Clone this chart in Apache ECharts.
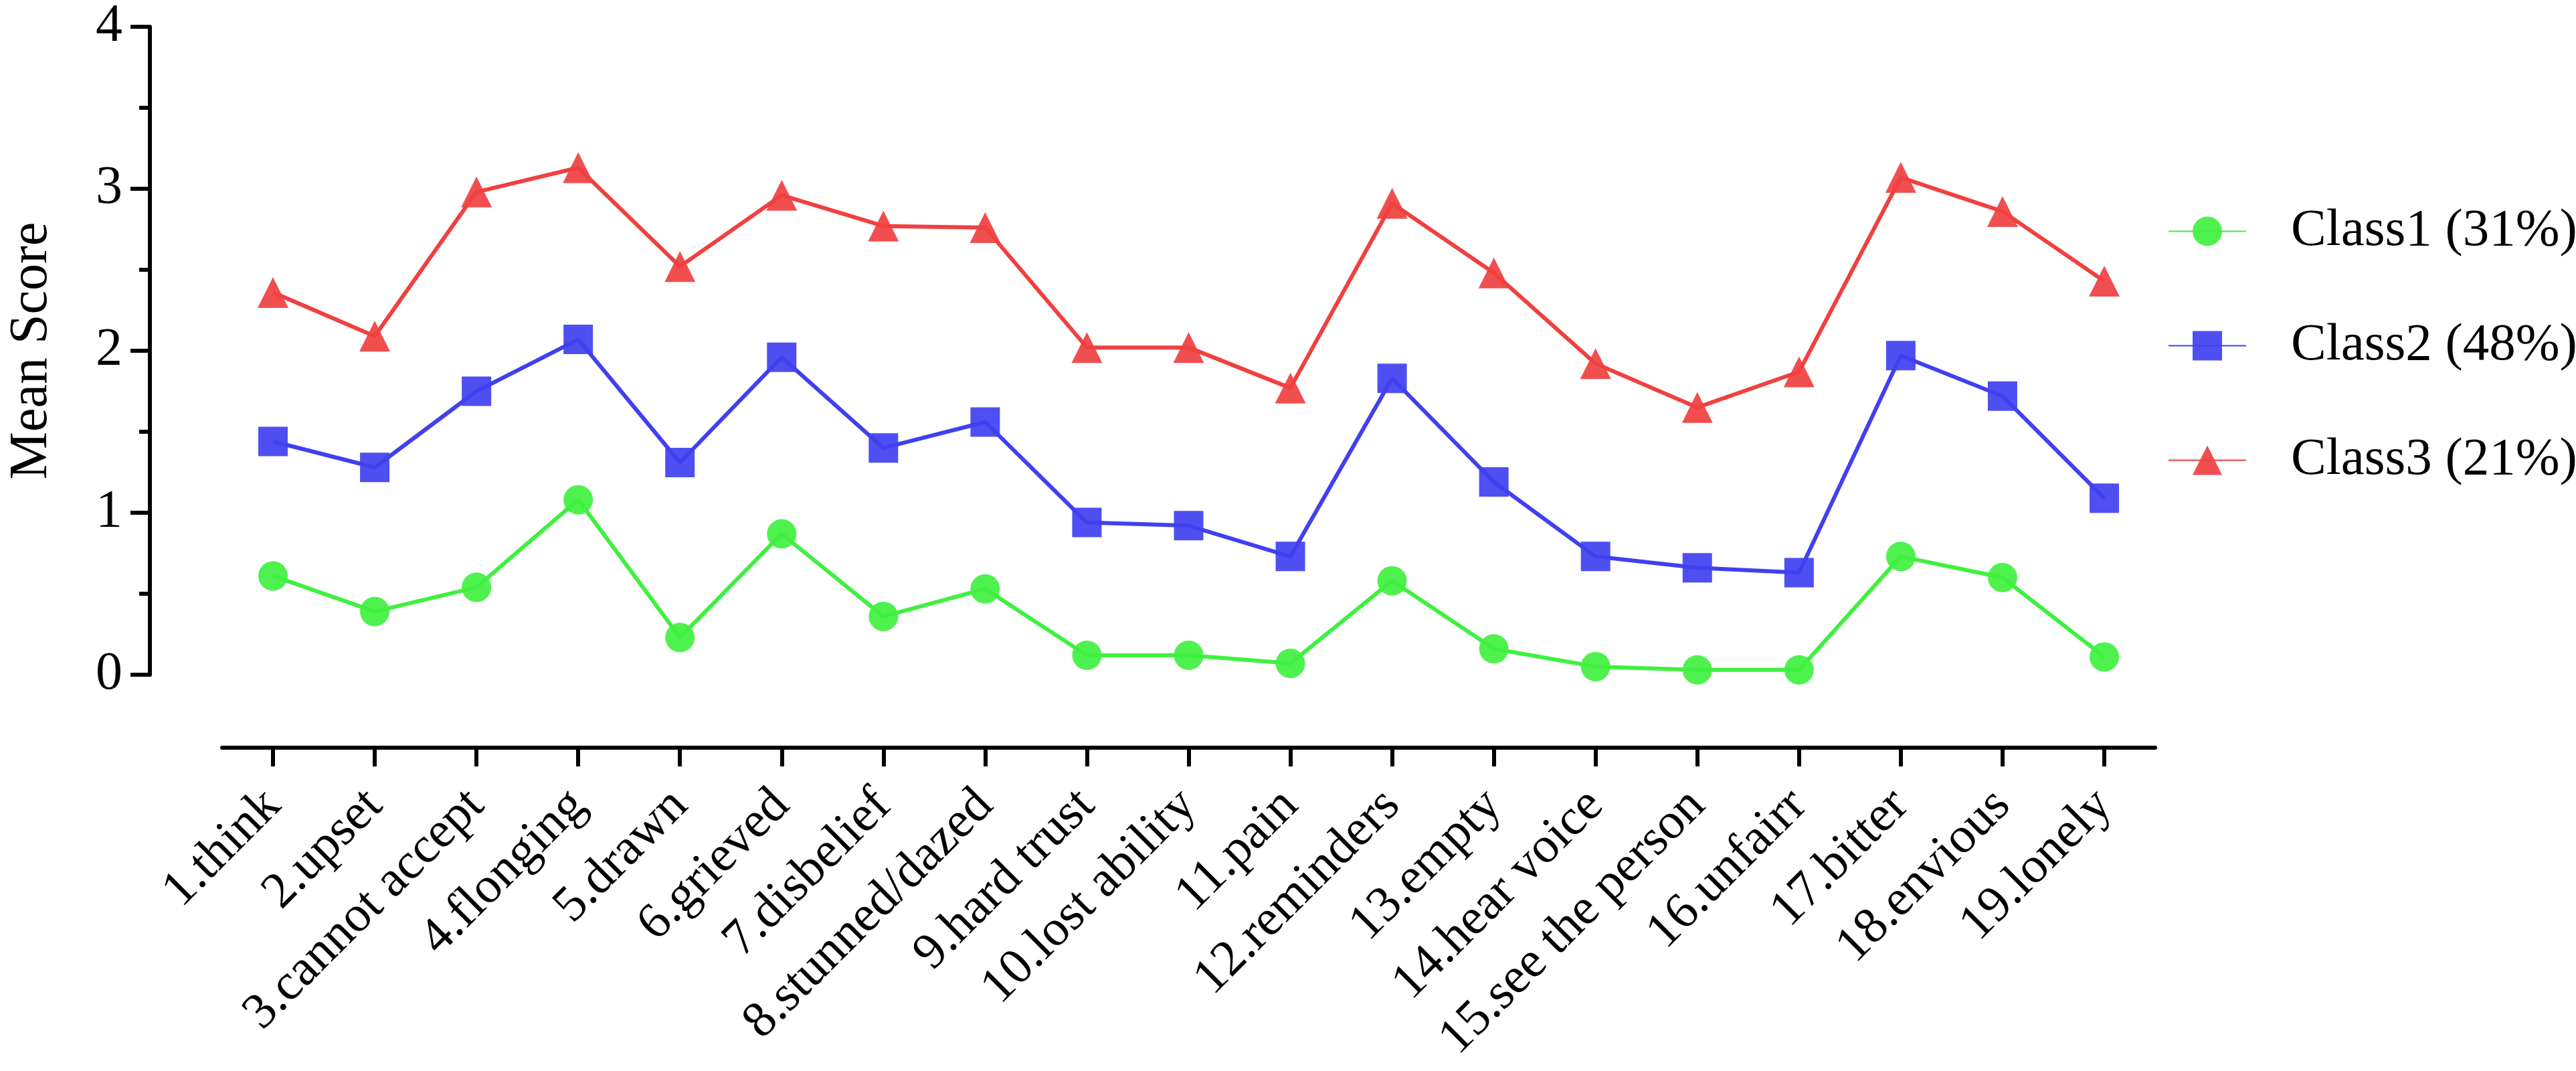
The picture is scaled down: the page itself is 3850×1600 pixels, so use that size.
<!DOCTYPE html>
<html>
<head>
<meta charset="utf-8">
<title>Mean Score by Class</title>
<script src="https://cdn.jsdelivr.net/npm/echarts@6/dist/echarts.min.js"></script>
<style>
  html, body { margin: 0; padding: 0; background: #fff; }
  #chart { width: 3850px; height: 1600px; }
</style>
</head>
<body>
<div id="chart"></div>
<script>
// 条目名称
var items = [
  "1.think", "2.upset", "3.cannot accept", "4.flonging", "5.drawn",
  "6.grieved", "7.disbelief", "8.stunned/dazed", "9.hard trust",
  "10.lost ability", "11.pain", "12.reminders", "13.empty",
  "14.hear voice", "15.see the person", "16.unfairr", "17.bitter",
  "18.envious", "19.lonely"
];

// 各类别均值
var class1 = [0.61, 0.39, 0.54, 1.08, 0.23, 0.87, 0.36, 0.53, 0.12, 0.12,
  0.07, 0.58, 0.16, 0.05, 0.03, 0.03, 0.73, 0.60, 0.11];
var class2 = [1.44, 1.28, 1.75, 2.07, 1.31, 1.96, 1.40, 1.56, 0.94, 0.92,
  0.73, 1.83, 1.19, 0.73, 0.66, 0.63, 1.97, 1.72, 1.09];
var class3 = [2.36, 2.09, 2.98, 3.13, 2.52, 2.96, 2.77, 2.76, 2.02, 2.02,
  1.77, 2.91, 2.48, 1.92, 1.65, 1.87, 3.07, 2.86, 2.43];

var classNames = ["Class1 (31%)", "Class2 (48%)", "Class3 (21%)"];
var yTicks = { min: 0, max: 4, interval: 1 };

var FONT = "'Liberation Serif', 'Times New Roman', serif";

var chartDom = document.getElementById("chart");
var myChart = echarts.init(chartDom, null, { renderer: "canvas" });

function makeSeries(name, data, color, symbol, size) {
  return {
    name: name,
    type: "line",
    data: data,
    symbol: symbol,
    symbolSize: size,
    lineStyle: { color: color, width: 6 },
    itemStyle: { color: color, opacity: 0.92 },
    emphasis: { disabled: true },
    z: 3
  };
}

var option = {
  animation: false,
  backgroundColor: "#ffffff",
  textStyle: { fontFamily: FONT },
  grid: { left: 299, right: 629, top: 33, bottom: 592, containLabel: false },
  legend: {
    orient: "vertical",
    left: 3235,
    top: 301,
    itemWidth: 116,
    itemHeight: 55,
    itemGap: 92,
    data: classNames,
    formatter: "{t|{name}}",
    textStyle: {
      fontFamily: FONT,
      fontSize: 79,
      color: "#000",
      rich: {
        t: {
          fontFamily: FONT,
          fontSize: 79,
          color: "#000",
          lineHeight: 55,
          padding: [0, 0, 0, 62]
        }
      }
    }
  },
  xAxis: {
    type: "category",
    data: items,
    boundaryGap: true,
    offset: 109,
    axisLine: { show: true, onZero: false, lineStyle: { color: "#000", width: 6 } },
    axisTick: { show: true, inside: false, alignWithLabel: true, length: 28, lineStyle: { color: "#000", width: 6 } },
    axisLabel: {
      interval: 0,
      rotate: 45,
      margin: 75,
      fontFamily: FONT,
      fontSize: 76,
      color: "#000"
    },
    splitLine: { show: false }
  },
  yAxis: {
    type: "value",
    min: yTicks.min,
    max: yTicks.max,
    interval: yTicks.interval,
    offset: 108,
    name: "Mean Score",
    nameLocation: "middle",
    nameGap: 136,
    nameTextStyle: { fontFamily: FONT, fontSize: 80, color: "#000" },
    axisLine: { show: true, onZero: false, lineStyle: { color: "#000", width: 6 } },
    axisTick: { show: true, length: 29, lineStyle: { color: "#000", width: 6 } },
    minorTick: { show: true, splitNumber: 2, length: 16, lineStyle: { color: "#000", width: 6 } },
    axisLabel: { margin: 41, fontFamily: FONT, fontSize: 80, color: "#000" },
    splitLine: { show: false }
  },
  series: [
    makeSeries(classNames[0], class1, "#40f040", "circle", 44),
    makeSeries(classNames[1], class2, "#4040f0", "rect", 44),
    makeSeries(classNames[2], class3, "#f04040", "triangle", 46)
  ]
};

myChart.setOption(option);

window.addEventListener("resize", () => {
  myChart.resize();
});
</script>
</body>
</html>
